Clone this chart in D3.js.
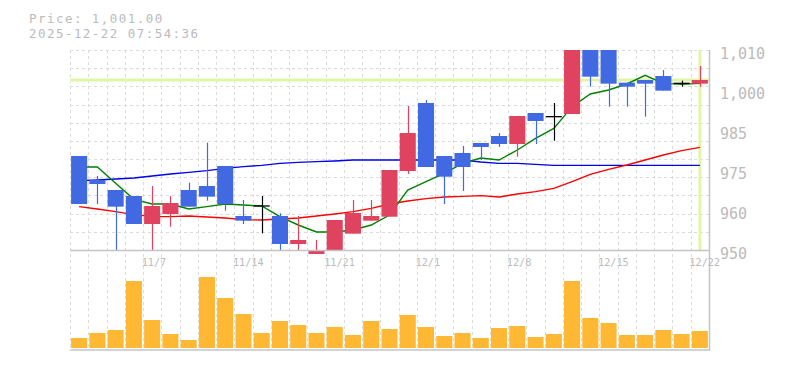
<!DOCTYPE html>
<html>
<head>
<meta charset="utf-8">
<script src="https://cdn.jsdelivr.net/npm/d3@7"></script>
<style>
  html, body { margin: 0; padding: 0; background: #fff; }
  svg { display: block; }
  text { font-family: "DejaVu Sans Mono", "Liberation Mono", monospace; fill: #bbbbbb; }
</style>
</head>
<body>
<svg id="chart" width="785" height="370"></svg>
<script>
// ---------------- data ----------------
const dates = ["10/31","11/4","11/5","11/6","11/7","11/10","11/11","11/12","11/13","11/14",
  "11/17","11/18","11/19","11/20","11/21","11/25","11/26","11/27","11/28","12/1",
  "12/2","12/3","12/4","12/5","12/8","12/9","12/10","12/11","12/12","12/15",
  "12/16","12/17","12/18","12/19","12/22"];
const openP  = [978.2,971.0,968.0,966.2,957.8,960.8,968.0,969.2,975.2,960.2,
  963.2,960.2,951.8,948.8,949.8,954.9,958.8,960.0,973.7,994.1,
  978.2,979.1,982.1,984.2,981.8,991.1,990.0,990.8,1013.0,1012.0,
  1000.2,1001.0,1002.2,1000.0,999.9];
const highP  = [978.2,972.2,968.0,966.2,969.2,966.2,970.2,982.2,975.2,965.0,
  966.2,961.0,960.2,953.0,959.0,965.0,965.0,974.0,993.2,995.0,
  978.2,981.2,982.1,985.1,990.2,991.1,994.1,1013.0,1014.0,1013.0,
  1000.2,1001.0,1004.0,1000.8,1005.2];
const lowP   = [963.8,963.8,950.0,957.8,950.0,957.0,963.0,964.8,961.8,957.8,
  955.0,950.0,950.0,948.8,949.8,954.9,958.8,960.0,972.8,974.9,
  963.8,967.7,977.0,980.9,978.0,981.8,982.8,990.8,999.0,993.0,
  993.0,990.0,997.8,999.0,999.0];
const closeP = [963.8,969.8,963.0,957.8,963.2,964.1,963.0,966.0,963.8,958.8,
  963.2,951.8,953.0,950.0,959.0,961.1,960.2,974.0,985.1,974.9,
  972.0,974.9,980.9,981.8,990.2,988.7,990.0,1012.0,1002.0,999.9,
  999.0,999.9,997.8,1000.0,1001.0];
const volume = [10,15,18,67,28,14,8,71,50,34,
  15,27,23,15,21,13,27,19,33,21,
  12,15,10,20,22,11,14,67,30,25,
  13,13,18,14,17];
const ma5  = [974.9,974.9,970.0,965.2,963.8,963.8,962.3,963.0,963.8,963.5,
  963.2,960.0,957.5,955.4,955.4,956.0,957.5,960.5,968.0,970.5,
  973.0,976.0,977.6,977.0,980.0,983.5,986.5,993.0,996.8,998.0,
  999.8,1002.4,1000.0,999.7,1000.0];
const ma25 = [963.0,962.3,961.5,960.6,960.0,960.0,960.2,959.9,959.6,959.1,
  959.0,959.3,959.6,960.2,960.8,961.5,962.5,963.8,964.7,965.4,
  965.9,966.1,966.3,965.9,966.8,967.5,968.5,970.5,972.7,974.2,
  975.5,977.0,978.5,979.8,980.8];
const ma75 = [970.8,971.0,971.3,971.6,972.2,972.8,973.3,973.8,974.5,975.0,
  975.4,976.0,976.3,976.5,976.7,977.0,977.0,977.0,977.0,977.0,
  977.0,977.0,976.4,976.0,976.0,975.7,975.4,975.4,975.4,975.4,
  975.4,975.4,975.4,975.4,975.4];
const yTickValues = [950, 962, 974, 986, 998, 1010];
const yTickLabels = ["950", "960", "975", "985", "1,000", "1,010"];
const xTickDates  = ["11/7", "11/14", "11/21", "12/1", "12/8", "12/15", "12/22"];
const currentPrice = 1001.0;
const titleLines = ["Price: 1,001.00", "2025-12-22 07:54:36"];

// ---------------- layout ----------------
const L = 70, R = 709, PT = 50, PB = 250, VT = 272, VB = 348, VAX = 349.5;
const svg = d3.select("#chart");

const x = d3.scaleBand().domain(d3.range(dates.length)).range([L, R])
  .paddingInner(0.12).paddingOuter(0.06);
const step = x.step();
const cx = i => x(i) + x.bandwidth() / 2;
const y = d3.scaleLinear().domain([950, 1010]).range([PB, PT]);
const yv = d3.scaleLinear().domain([0, 76]).range([VB, VT]);

// ---------------- grid ----------------
const grid = svg.append("g").attr("stroke", "#dcdcdc").attr("stroke-dasharray", "3,3")
  .attr("stroke-width", 1);
d3.range(12).forEach(k => {
  const yy = Math.round(y(950 + k * 60 / 11)) + 0.5;
  grid.append("line").attr("x1", L).attr("x2", R).attr("y1", yy).attr("y2", yy);
});
d3.range(dates.length).forEach(k => {
  const xx = Math.round(L + k * step) + 0.5;
  grid.append("line").attr("x1", xx).attr("x2", xx).attr("y1", PT).attr("y2", VAX);
});

// ---------------- current price markers ----------------
svg.append("line").attr("x1", L).attr("x2", R)
  .attr("y1", y(currentPrice)).attr("y2", y(currentPrice))
  .attr("stroke", "#e1f5a8").attr("stroke-width", 3);
svg.append("line").attr("x1", cx(dates.length - 1)).attr("x2", cx(dates.length - 1))
  .attr("y1", PT).attr("y2", PB)
  .attr("stroke", "#e1f5a8").attr("stroke-width", 3);

// ---------------- moving averages ----------------
const line = d3.line().x((d, i) => cx(i)).y(d => y(d));
[[ma75, "#0000ee"], [ma25, "#ff0000"], [ma5, "#008000"]].forEach(([arr, c]) => {
  svg.append("path").attr("d", line(arr)).attr("fill", "none")
    .attr("stroke", c).attr("stroke-width", 1.4);
});

// ---------------- candles ----------------
svg.append("clipPath").attr("id", "pclip").append("rect")
  .attr("x", L).attr("y", PT).attr("width", R - L).attr("height", 215);
const cg = svg.append("g").attr("clip-path", "url(#pclip)");
const col = i => closeP[i] > openP[i] ? "#e0435f" : (closeP[i] < openP[i] ? "#4169e1" : "#000000");
dates.forEach((d, i) => {
  const c = col(i);
  const xm = Math.round(cx(i)) + 0.5;
  cg.append("line").attr("x1", xm).attr("x2", xm)
    .attr("y1", y(highP[i])).attr("y2", y(lowP[i]))
    .attr("stroke", c).attr("stroke-width", 1.2);
  if (openP[i] === closeP[i]) {
    cg.append("line").attr("x1", x(i)).attr("x2", x(i) + x.bandwidth())
      .attr("y1", y(openP[i])).attr("y2", y(openP[i]))
      .attr("stroke", c).attr("stroke-width", 1.3);
  } else {
    const top = y(Math.max(openP[i], closeP[i]));
    const bot = y(Math.min(openP[i], closeP[i]));
    cg.append("rect").attr("x", x(i)).attr("y", top)
      .attr("width", x.bandwidth()).attr("height", Math.max(1, bot - top))
      .attr("fill", c);
  }
});

// ---------------- volume ----------------
svg.append("g").selectAll("rect").data(volume).join("rect")
  .attr("x", (d, i) => x(i)).attr("y", d => yv(d))
  .attr("width", x.bandwidth()).attr("height", d => VB - yv(d))
  .attr("fill", "#ffb833");

// ---------------- axes frame ----------------
const ax = svg.append("g").attr("stroke", "#c4c4c4").attr("stroke-width", 1.5);
ax.append("line").attr("x1", L).attr("x2", R + 1).attr("y1", PB + 0.5).attr("y2", PB + 0.5);
ax.append("line").attr("x1", L).attr("x2", R + 1).attr("y1", VAX + 0.5).attr("y2", VAX + 0.5);
ax.append("line").attr("x1", R + 0.5).attr("x2", R + 0.5).attr("y1", PT).attr("y2", VAX + 1);

// ---------------- labels ----------------
yTickValues.forEach((v, k) => {
  svg.append("text").attr("x", 720).attr("y", y(v) + 8.5)
    .attr("font-size", "15px").text(yTickLabels[k]);
});
xTickDates.forEach(t => {
  const i = dates.indexOf(t);
  svg.append("text").attr("x", cx(i) - 10.5).attr("y", 265.8)
    .attr("font-size", "10.2px").text(t);
});
titleLines.forEach((t, k) => {
  svg.append("text").attr("x", 29).attr("y", 22.5 + k * 15)
    .attr("font-size", "12.5px").attr("letter-spacing", "1.45px").text(t);
});
</script>
</body>
</html>
